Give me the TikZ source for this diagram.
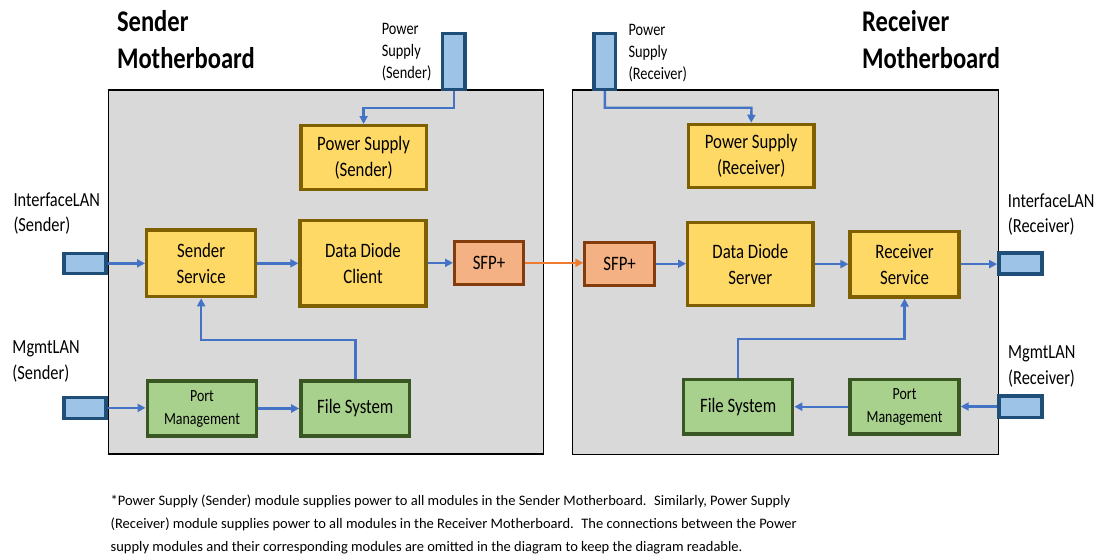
\documentclass[tikz,border=0pt]{standalone}
\usepackage{fontspec}
\setmainfont{Carlito}
\newfontfamily\nf[FakeStretch=0.82]{Carlito}
\usetikzlibrary{arrows.meta,calc}
\definecolor{gfill}{HTML}{D9D9D9}
\definecolor{yfill}{HTML}{FFD966}
\definecolor{ydraw}{HTML}{7F6000}
\definecolor{grfill}{HTML}{A9D18E}
\definecolor{grdraw}{HTML}{385723}
\definecolor{ofill}{HTML}{F4B183}
\definecolor{odraw}{HTML}{843C0C}
\definecolor{bfill}{HTML}{9DC3E6}
\definecolor{bdraw}{HTML}{1F4E79}
\definecolor{arrblue}{HTML}{4472C4}
\definecolor{arrorange}{HTML}{ED7D31}
\tikzset{
  board/.style={draw=black, fill=gfill, line width=1.3pt, inner sep=0pt},
  ybox/.style={draw=ydraw, fill=yfill, line width=3.3pt, align=center, inner sep=0pt, font=\nf\fontsize{20.5}{26}\selectfont},
  gbox/.style={draw=grdraw, fill=grfill, line width=3.3pt, align=center, inner sep=0pt, font=\nf\fontsize{20.5}{26}\selectfont},
  sbox/.style={draw=odraw, fill=ofill, line width=3pt, align=center, inner sep=0pt, font=\nf\fontsize{20.5}{26}\selectfont},
  portbox/.style={draw=bdraw, fill=bfill, line width=3.5pt, inner sep=0pt},
  arr/.style={draw=arrblue, line width=2.4pt, -{Triangle[length=8pt,width=8pt]}},
  oarr/.style={draw=arrorange, line width=2.4pt, -{Triangle[length=8pt,width=8pt]}},
  title/.style={anchor=base west, align=left, inner sep=0pt, font=\nf\bfseries\fontsize{30}{36.6}\selectfont},
  plabel/.style={anchor=base west, align=left, inner sep=0pt, font=\nf\fontsize{17.5}{22}\selectfont},
  llabel/.style={anchor=base west, align=left, inner sep=0pt, font=\nf\fontsize{20}{25.5}\selectfont},
  note/.style={anchor=base west, align=left, inner sep=0pt, font=\fontsize{14.5}{23}\selectfont},
}
\begin{document}
\begin{tikzpicture}[x=1pt,y=-1pt]
\useasboundingbox (0,0) rectangle (1099,558);
% boards
\node[board, minimum width=435.4pt, minimum height=363.9pt] (sboard) at (326.05,271.9) {};
\node[board, minimum width=426.3pt, minimum height=364.4pt] (rboard) at (785.5,272.15) {};
% titles (anchor = baseline of last line)
\node[title] (stitle) at (116.8,68.3) {Sender\\Motherboard};
\node[title] (rtitle) at (862,68.3) {Receiver\\Motherboard};
% outside ports
\node[portbox, minimum width=22.5pt, minimum height=56pt] (pwrS) at (453.7,61.35) {};
\node[portbox, minimum width=21.5pt, minimum height=56pt] (pwrR) at (604.8,61.35) {};
\node[portbox, minimum width=42pt, minimum height=20pt] (ilanS) at (85.2,263.35) {};
\node[portbox, minimum width=42pt, minimum height=21pt] (mlanS) at (85.2,407.85) {};
\node[portbox, minimum width=43pt, minimum height=21pt] (ilanR) at (1020.35,263.35) {};
\node[portbox, minimum width=43pt, minimum height=21.5pt] (mlanR) at (1020.35,406.5) {};
% port labels
\node[plabel] (pwrSl) at (381.6,78.5) {Power\\Supply\\(Sender)};
\node[plabel] (pwrRl) at (628.3,79.5) {Power\\Supply\\(Receiver)};
\node[llabel] (ilanSl) at (13.3,231.5) {InterfaceLAN\\(Sender)};
\node[llabel] (mlanSl) at (12.3,379.3) {MgmtLAN\\(Sender)};
\node[llabel] (ilanRl) at (1007.7,232.5) {InterfaceLAN\\(Receiver)};
\node[llabel] (mlanRl) at (1008,384) {MgmtLAN\\(Receiver)};
% sender modules
\node[ybox, minimum width=125.5pt, minimum height=63.7pt] (psS) at (363.6,157.5) {Power Supply\\(Sender)};
\node[ybox, minimum width=126pt, minimum height=85.4pt] (ddc) at (363,263.35) {Data Diode\\Client};
\node[ybox, minimum width=109pt, minimum height=66.7pt] (ss) at (201.15,263.3) {Sender\\Service};
\node[sbox, minimum width=69pt, minimum height=42.7pt] (sfpS) at (489,262.85) {SFP+};
\node[gbox, minimum width=109.6pt, minimum height=55pt, font=\nf\fontsize{17}{23}\selectfont] (pmS) at (202,408.5) {Port\\Management};
\node[gbox, minimum width=108.9pt, minimum height=55pt] (fsS) at (355.3,408.5) {File System};
% receiver modules
\node[ybox, minimum width=125.7pt, minimum height=63.3pt] (psR) at (751.2,156) {Power Supply\\(Receiver)};
\node[ybox, minimum width=125.3pt, minimum height=83.3pt] (dds) at (750.3,264) {Data Diode\\Server};
\node[ybox, minimum width=109pt, minimum height=65.5pt] (rs) at (904.55,264.1) {Receiver\\Service};
\node[sbox, minimum width=69.6pt, minimum height=43pt] (sfpR) at (619.6,263.7) {SFP+};
\node[gbox, minimum width=109pt, minimum height=54.7pt] (fsR) at (738.15,406.7) {File System};
\node[gbox, minimum width=109pt, minimum height=54.7pt, font=\nf\fontsize{17}{23}\selectfont] (pmR) at (904.55,406.7) {Port\\Management};
% junction coordinates
\coordinate (jS) at (363.6,107.7);
\coordinate (jR) at (751.5,107.7);
\coordinate (fbS) at (280,340);
\coordinate (fbR) at (820,339);
% connectors
\draw[arr] (pwrS.south) |- (jS) -- (psS.north);
\draw[arr] (pwrR.south) |- (jR) -- (psR.north);
\draw[arr] (ilanS.east) -- (ilanS.east -| ss.west);
\draw[arr] (ss.east) -- (ss.east -| ddc.west);
\draw[arr] (ddc.east |- sfpS.west) -- (sfpS.west);
\draw[oarr] (sfpS.east) -- (sfpS.east -| sfpR.west);
\draw[arr] (sfpR.east) -- (sfpR.east -| dds.west);
\draw[arr] (dds.east |- rs.west) -- (rs.west);
\draw[arr] (rs.east) -- (rs.east -| ilanR.west);
\draw[arr] (mlanS.east) -- (mlanS.east -| pmS.west);
\draw[arr] (pmS.east) -- (pmS.east -| fsS.west);
\draw[arr] (fsS.north) |- (fbS) -| (ss.south);
\draw[arr] (mlanR.west) -- (mlanR.west -| pmR.east);
\draw[arr] (pmR.west) -- (pmR.west -| fsR.east);
\draw[arr] (fsR.north) |- (fbR) -| (rs.south);
% footnote
\node[note] (fn) at (110.5,551.7) {*Power Supply (Sender) module supplies power to all modules in the Sender Motherboard.~ Similarly, Power Supply\\(Receiver) module supplies power to all modules in the Receiver Motherboard.~ The connections between the Power\\supply modules and their corresponding modules are omitted in the diagram to keep the diagram readable.};
\end{tikzpicture}
\end{document}
